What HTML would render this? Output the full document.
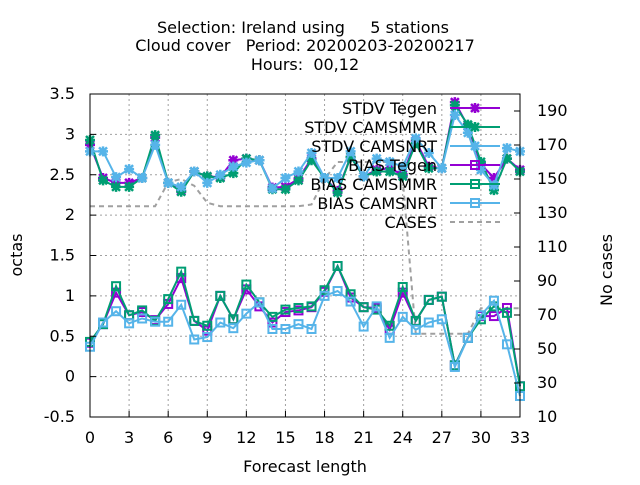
<!DOCTYPE html>
<html><head><meta charset="utf-8"><style>
body{margin:0;background:#fff}
svg{font-family:"DejaVu Sans","Liberation Sans",sans-serif}
</style></head><body>
<svg id="c" width="640" height="480" viewBox="0 0 640 480">
<g font-size="16" text-anchor="middle" fill="#000">
<text x="303" y="33" xml:space="preserve">Selection: Ireland using     5 stations</text>
<text x="305" y="51" xml:space="preserve">Cloud cover   Period: 20200203-20200217</text>
<text x="305" y="70" xml:space="preserve">Hours:  00,12</text>
</g>
<g id="grid"></g><g id="series"></g><g id="axes"></g><g id="legend"></g>
<text x="22" y="255" font-size="16" text-anchor="middle" transform="rotate(-90 22 255)">octas</text>
<text x="612" y="270" font-size="16" text-anchor="middle" transform="rotate(-90 612 270)">No cases</text>
<text x="305" y="472" font-size="16" text-anchor="middle">Forecast length</text>
</svg>
<script>
const xs = [0,1,2,3,4,5,6,7,8,9,10,11,12,13,14,15,16,17,18,19,20,21,22,23,24,25,26,27,28,29,30,31,32,33];
const stdvTegen = [2.87,2.46,2.40,2.40,2.46,2.96,2.40,2.30,2.54,2.48,2.47,2.68,2.70,2.68,2.34,2.35,2.45,2.70,2.46,2.30,2.72,2.48,2.56,2.58,2.50,2.92,2.60,2.58,3.40,3.10,2.63,2.46,2.70,2.56];
const stdvMMR = [2.93,2.43,2.35,2.35,2.46,2.99,2.40,2.29,2.54,2.48,2.46,2.52,2.70,2.68,2.32,2.32,2.43,2.68,2.46,2.28,2.72,2.48,2.54,2.54,2.48,2.89,2.58,2.58,3.36,3.12,2.66,2.31,2.70,2.54];
const stdvNRT = [2.79,2.79,2.47,2.57,2.46,2.87,2.40,2.35,2.54,2.40,2.50,2.60,2.65,2.68,2.33,2.46,2.54,2.77,2.46,2.46,2.79,2.48,2.70,2.66,2.60,2.95,2.77,2.58,3.24,3.02,2.56,2.37,2.83,2.79];
const biasTegen = [0.42,0.65,1.04,0.76,0.80,0.70,0.90,1.22,0.69,0.57,1.00,0.71,1.08,0.87,0.67,0.80,0.82,0.86,1.05,1.37,0.98,0.86,0.85,0.58,1.04,0.69,0.95,0.99,0.14,0.48,0.75,0.75,0.85,-0.12];
const biasMMR = [0.43,0.65,1.12,0.76,0.82,0.69,0.96,1.30,0.69,0.63,1.00,0.71,1.14,0.92,0.74,0.83,0.85,0.87,1.07,1.37,1.02,0.86,0.83,0.63,1.11,0.69,0.95,0.99,0.14,0.48,0.71,0.87,0.79,-0.12];
const biasNRT = [0.37,0.67,0.81,0.66,0.72,0.68,0.68,0.89,0.46,0.49,0.67,0.60,0.78,0.92,0.59,0.59,0.65,0.59,1.00,1.06,0.93,0.62,0.87,0.48,0.74,0.58,0.67,0.71,0.12,0.48,0.76,0.94,0.40,-0.24];
const cases = [134,134,134,134,134,134,148,150,146,136,134,134,134,134,134,134,134,135,150,160,160,160,160,160,150,59,59,59,59,59,74,74,74,74];
const xTicks = [0,3,6,9,12,15,18,21,24,27,30,33];
const yTicks = [-0.5,0,0.5,1,1.5,2,2.5,3,3.5];
const y2Ticks = [10,30,50,70,90,110,130,150,170,190];

const NS="http://www.w3.org/2000/svg";
const L=90,R=520,T=94,B=417;
const X=v=>L+(v-0)/33*(R-L);
const Y=v=>T+(3.5-v)/4*(B-T);
function Y2f(v){return B-(v-10)*1.7;}
function el(tag,attrs,parent){const e=document.createElementNS(NS,tag);for(const k in attrs)e.setAttribute(k,attrs[k]);parent.appendChild(e);return e;}
const grid=document.getElementById('grid'),axes=document.getElementById('axes'),ser=document.getElementById('series'),leg=document.getElementById('legend');
xTicks.forEach(t=>{
  if(t>0&&t<33){const g=el('line',{x1:X(t),x2:X(t),y1:T,y2:B,stroke:'#a0a0a0','stroke-dasharray':'2,3'},grid);
  
  }
  const tl=el('line',{x1:X(t),x2:X(t),y1:B,y2:B-6,stroke:'#000'},axes);
  
  
  const tx=el('text',{x:X(t),y:443,'font-size':16,'text-anchor':'middle'},axes);tx.textContent=t;
  
  
});
yTicks.forEach(t=>{
  if(t>-0.5&&t<3.5){const g=el('line',{x1:L,x2:R,y1:Y(t),y2:Y(t),stroke:'#a0a0a0','stroke-dasharray':'2,3'},grid);
  
  }
  const tl=el('line',{x1:L,x2:L+6,y1:Y(t),y2:Y(t),stroke:'#000'},axes);
  
  
  const tx=el('text',{x:75,y:Y(t)+5,'font-size':16,'text-anchor':'end'},axes);tx.textContent=t;
  
  
});
y2Ticks.forEach(t=>{
  const tl=el('line',{x1:R,x2:R-6,y1:Y2f(t),y2:Y2f(t),stroke:'#000'},axes);
  
  
  const tx=el('text',{x:537,y:Y2f(t)+5,'font-size':16},axes);tx.textContent=t;
  
  
});
const frame=el('rect',{x:L,y:T,width:R-L,height:B-T,fill:'none',stroke:'#000','stroke-width':1},axes);



function star(g,x,y,c){el('path',{d:`M${x-4},${y-4}L${x+4},${y+4}M${x-4},${y+4}L${x+4},${y-4}M${x-5},${y}L${x+5},${y}M${x},${y-5}L${x},${y+5}`,stroke:c,'stroke-width':2.5,fill:'none'},g);}
function sq(g,x,y,c){el('rect',{x:x-4,y:y-4,width:8,height:8,stroke:c,'stroke-width':2,fill:'none'},g);}
const S=[
 {name:'STDV Tegen',d:stdvTegen,c:'#9400d3',m:star,key:'stdv-tegen'},
 {name:'STDV CAMSMMR',d:stdvMMR,c:'#009e73',m:star,key:'stdv-camsmmr'},
 {name:'STDV CAMSNRT',d:stdvNRT,c:'#56b4e9',m:star,key:'stdv-camsnrt'},
 {name:'BIAS Tegen',d:biasTegen,c:'#9400d3',m:sq,key:'bias-tegen'},
 {name:'BIAS CAMSMMR',d:biasMMR,c:'#009e73',m:sq,key:'bias-camsmmr'},
 {name:'BIAS CAMSNRT',d:biasNRT,c:'#56b4e9',m:sq,key:'bias-camsnrt'}];
const cg=el('polyline',{points:xs.map((x,i)=>X(x)+','+Y2f(cases[i])).join(' '),fill:'none',stroke:'#a0a0a0','stroke-width':2,'stroke-dasharray':'5,4'},ser);


S.forEach(s=>{
  const g=el('g',{},ser);
  
  
  el('polyline',{points:xs.map((x,i)=>X(x)+','+Y(s.d[i])).join(' '),fill:'none',stroke:s.c,'stroke-width':2},g);
  xs.forEach((x,i)=>s.m(g,X(x),Y(s.d[i]),s.c));
});
const names=S.map(s=>s.name).concat(['CASES']);
names.forEach((n,i)=>{
  const y=108+i*19;
  const g=el('g',{},leg);
  
  
  const t=el('text',{x:437,y:y+6,'font-size':16,'text-anchor':'end'},g);t.textContent=n;
  if(i<6){el('line',{x1:450,x2:500,y1:y,y2:y,stroke:S[i].c,'stroke-width':2},g);S[i].m(g,475,y,S[i].c);}
  else el('line',{x1:450,x2:500,y1:y,y2:y,stroke:'#a0a0a0','stroke-width':2,'stroke-dasharray':'5,4'},g);
});
</script>
</body></html>
